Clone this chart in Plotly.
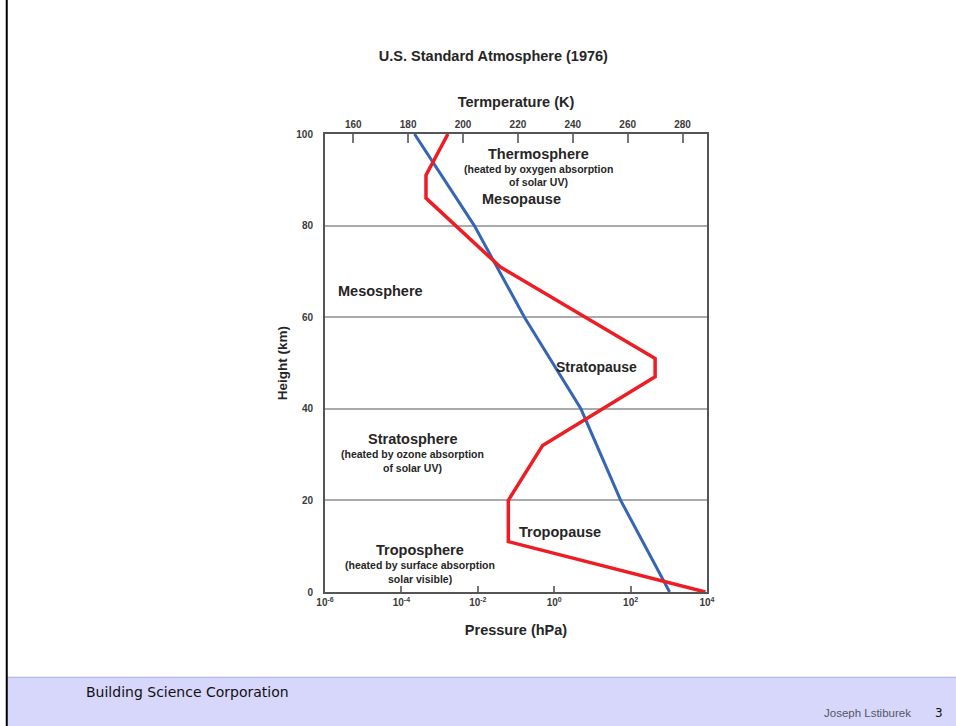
import plotly.graph_objects as go

# ---- data ----
temp_height_km = [0, 11, 20, 32, 47, 51, 71, 86, 91, 100]
temp_K = [288.3, 216.5, 216.5, 229, 270, 270, 213.5, 186.5, 186.5, 194.5]

pres_height_km = [0, 20, 40, 60, 80, 100]
pres_hPa = [1050, 55, 5.0, 0.166, 0.0081, 0.00022]

temp_ticks = [160, 180, 200, 220, 240, 260, 280]
pres_ticks = [1e-6, 1e-4, 1e-2, 1e0, 1e2, 1e4]
pres_ticktext = ["10<sup>-6</sup>", "10<sup>-4</sup>", "10<sup>-2</sup>",
                 "10<sup>0</sup>", "10<sup>2</sup>", "10<sup>4</sup>"]
height_ticks = [0, 20, 40, 60, 80, 100]

# ---- layout geometry (pixels) ----
W, H = 956, 726
L, R, T, B = 325, 706.7, 133.5, 591.7


def px(x):
    return (x - L) / (R - L)


def py(y):
    return (B - y) / (B - T)


FONT = "Liberation Sans, Arial, sans-serif"
TXT = "#262626"
TICK = dict(size=10, color="#3a3a3a", family=FONT, weight="bold")

fig = go.Figure()

fig.add_trace(go.Scatter(
    x=pres_hPa, y=pres_height_km, mode="lines",
    line=dict(color="#3565b4", width=3), xaxis="x", yaxis="y",
    showlegend=False, hoverinfo="skip"))

fig.add_trace(go.Scatter(
    x=temp_K, y=temp_height_km, mode="lines",
    line=dict(color="#ee1d24", width=3.5), xaxis="x2", yaxis="y",
    showlegend=False, hoverinfo="skip"))

axis_line = dict(showline=True, linecolor="#555555", linewidth=2)

fig.update_layout(
    width=W, height=H,
    margin=dict(l=L, r=W - R, t=T, b=H - B, pad=0),
    paper_bgcolor="white", plot_bgcolor="white",
    font=dict(family=FONT, color=TXT),
    xaxis=dict(type="log", range=[-6, 4], tickvals=pres_ticks,
               ticktext=pres_ticktext, ticks="inside", ticklen=6,
               tickcolor="#777777", tickwidth=1.5, showgrid=False,
               zeroline=False, mirror=False, tickfont=TICK,
               title=dict(text="<b>Pressure (hPa)</b>", standoff=18,
                          font=dict(size=14.5, color=TXT)),
               **axis_line),
    xaxis2=dict(overlaying="x", side="top", range=[149.7, 288.9],
                tickvals=temp_ticks, ticks="inside", ticklen=9,
                tickcolor="#777777", tickwidth=1.5, showgrid=False,
                zeroline=False, tickfont=TICK,
                title=dict(text="<b>Termperature (K)</b>", standoff=8,
                           font=dict(size=14.5, color=TXT)),
                **axis_line),
    yaxis=dict(range=[0, 100], tickvals=height_ticks, ticks="",
               showgrid=True, gridcolor="#aaaaaa", gridwidth=2,
               zeroline=False, mirror=True, tickfont=TICK,
               ticklabelstandoff=8,
               title=dict(text="<b>Height (km)</b>", standoff=6,
                          font=dict(size=13.5, color=TXT)),
               **axis_line),
    title=dict(text="<b>U.S. Standard Atmosphere (1976)</b>",
               x=px(522), xanchor="center", y=1 - 56 / H, yanchor="middle",
               font=dict(size=14.5, color=TXT, family=FONT)),
)

labels = [
    ("<b>Thermosphere</b>", 538, 154, 14.5),
    ("<b>(heated by oxygen absorption</b>", 538, 169, 10.5),
    ("<b>of solar UV)</b>", 538, 182, 10.5),
    ("<b>Mesopause</b>", 521, 199, 14.5),
    ("<b>Mesosphere</b>", 380, 291, 14.5),
    ("<b>Stratopause</b>", 596, 367, 14),
    ("<b>Stratosphere</b>", 412, 439, 14.5),
    ("<b>(heated by ozone absorption</b>", 412, 454, 10.5),
    ("<b>of solar UV)</b>", 412, 468, 10.5),
    ("<b>Tropopause</b>", 560, 532, 14.5),
    ("<b>Troposphere</b>", 420, 550, 14.5),
    ("<b>(heated by surface absorption</b>", 420, 565, 10.5),
    ("<b>solar visible)</b>", 420, 579, 10.5),
]
for text, x, y, s in labels:
    fig.add_annotation(text=text, x=px(x), y=py(y), xref="paper", yref="paper",
                       showarrow=False, xanchor="center", yanchor="middle",
                       font=dict(size=s, color=TXT, family=FONT))

# ---- slide decoration ----
fig.add_shape(type="rect", xref="paper", yref="paper",
              x0=px(7), x1=px(W + 2), y0=py(677), y1=py(H + 2),
              fillcolor="#d7d7fb", line=dict(width=0), layer="below")
fig.add_shape(type="line", xref="paper", yref="paper",
              x0=px(7), x1=px(W + 2), y0=py(677), y1=py(677),
              line=dict(color="#a9a9e6", width=1), layer="below")
fig.add_shape(type="line", xref="paper", yref="paper",
              x0=px(7), x1=px(7), y0=py(-2), y1=py(H + 2),
              line=dict(color="#000000", width=2), layer="below")

fig.add_annotation(text="Building Science Corporation", x=px(84), y=py(692),
                   xref="paper", yref="paper", showarrow=False,
                   xanchor="left", yanchor="middle",
                   font=dict(size=14, color="#111111", family="DejaVu Sans"))
fig.add_annotation(text="Joseph Lstiburek", x=px(913), y=py(713),
                   xref="paper", yref="paper", showarrow=False,
                   xanchor="right", yanchor="middle",
                   font=dict(size=11.5, color="#555566", family="Liberation Sans"))
fig.add_annotation(text="3", x=px(933), y=py(713),
                   xref="paper", yref="paper", showarrow=False,
                   xanchor="left", yanchor="middle",
                   font=dict(size=12, color="#111111", family="DejaVu Sans"))

fig.write_html("out.html",
               config={"displayModeBar": False},
               post_script="document.body.style.margin='0';"
                           "document.body.style.overflow='hidden';")
